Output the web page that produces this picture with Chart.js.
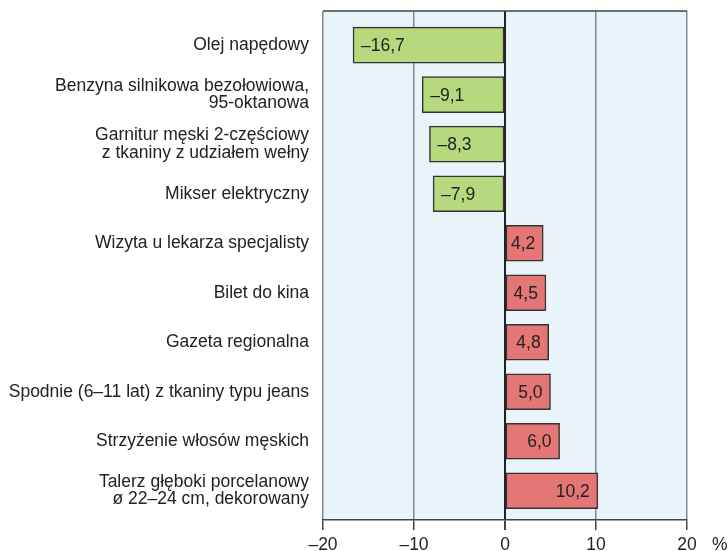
<!DOCTYPE html>
<html>
<head>
<meta charset="utf-8">
<script src="https://cdn.jsdelivr.net/npm/chart.js@4"></script>
<style>
  html, body { margin: 0; padding: 0; background: #fff; }
  #wrap { width: 728px; height: 551px; }
</style>
</head>
<body>
<div id="wrap"><canvas id="myChart" width="728" height="551"></canvas></div>
<script>
// dane z wykresu
const categories = [
  ["Olej napędowy"],
  ["Benzyna silnikowa bezołowiowa,", "95-oktanowa"],
  ["Garnitur męski 2-częściowy", "z tkaniny z udziałem wełny"],
  ["Mikser elektryczny"],
  ["Wizyta u lekarza specjalisty"],
  ["Bilet do kina"],
  ["Gazeta regionalna"],
  ["Spodnie (6–11 lat) z tkaniny typu jeans"],
  ["Strzyżenie włosów męskich"],
  ["Talerz głęboki porcelanowy", "ø 22–24 cm, dekorowany"]
];
const changes = [-16.7, -9.1, -8.3, -7.9, 4.2, 4.5, 4.8, 5.0, 6.0, 10.2];
const xTicks = [-20, -10, 0, 10, 20];

const FONT = "'Liberation Sans', Arial, sans-serif";
const fmt = (v) => (v < 0 ? "–" : "") + Math.abs(v).toFixed(1).replace(".", ",");

// tło obszaru wykresu + górna ramka
const bgPlugin = {
  id: "bgPlugin",
  beforeDraw(chart) {
    const { ctx, chartArea: a } = chart;
    ctx.save();
    ctx.fillStyle = "#e9f4fa";
    ctx.fillRect(a.left, a.top, a.right - a.left, a.bottom - a.top);
    ctx.restore();
  },
  afterDraw(chart) {
    const { ctx, chartArea: a } = chart;
    ctx.save();
    ctx.strokeStyle = "#444";
    ctx.lineWidth = 1.5;
    ctx.beginPath();
    ctx.moveTo(a.left, a.top);
    ctx.lineTo(a.right, a.top);
    ctx.stroke();
    // jednostka osi
    ctx.fillStyle = "#222";
    ctx.font = "17.5px " + FONT;
    ctx.textAlign = "left";
    ctx.textBaseline = "top";
    ctx.fillText("%", a.right + 25, a.bottom + 16);
    ctx.restore();
  }
};

// etykiety wartości wewnątrz słupków
const valueLabels = {
  id: "valueLabels",
  afterDatasetsDraw(chart) {
    const { ctx } = chart;
    const meta = chart.getDatasetMeta(0);
    ctx.save();
    ctx.fillStyle = "#222";
    ctx.font = "17.5px " + FONT;
    ctx.textBaseline = "middle";
    meta.data.forEach((bar, i) => {
      const v = changes[i];
      if (v < 0) {
        ctx.textAlign = "left";
        ctx.fillText(fmt(v), bar.x + 8, bar.y + 1);
      } else {
        ctx.textAlign = "right";
        ctx.fillText(fmt(v), bar.x - 8, bar.y + 1);
      }
    });
    ctx.restore();
  }
};

const ctx = document.getElementById("myChart").getContext("2d");
const myChart = new Chart(ctx, {
  type: "bar",
  data: {
    datasets: [
      {
        data: changes.map((v, i) => ({ x: v, y: i })),
        backgroundColor: changes.map((v) => (v < 0 ? "#b5d97c" : "#e57676")),
        borderColor: "#333",
        borderWidth: 1.5,
        borderSkipped: false,
        barThickness: 36
      }
    ]
  },
  options: {
    indexAxis: "y",
    responsive: false,
    animation: false,
    layout: { padding: { top: 11, right: 41, left: 0, bottom: 0 } },
    plugins: {
      legend: { display: false },
      tooltip: { enabled: false }
    },
    scales: {
      x: {
        type: "linear",
        min: -20,
        max: 20,
        afterBuildTicks: (axis) => {
          axis.ticks = xTicks.map((v) => ({ value: v }));
        },
        afterFit: (scale) => {
          scale.height = 31;
          scale.paddingLeft = 0;
          scale.paddingRight = 0;
        },
        ticks: {
          color: "#222",
          padding: 5,
          maxRotation: 0,
          font: { family: FONT, size: 17.5 },
          callback: (v) => fmt(v).replace(",0", "")
        },
        grid: {
          color: (c) => (c.tick && c.tick.value === 0 ? "#222" : "#888"),
          lineWidth: (c) => (c.tick && c.tick.value === 0 ? 2 : 1.5),
          tickLength: 10,
          tickColor: "#444",
          drawTicks: true
        },
        border: { display: true, color: "#444", width: 1.5 }
      },
      y: {
        type: "linear",
        reverse: true,
        offset: false,
        min: -0.69,
        max: 9.59,
        afterBuildTicks: (axis) => {
          axis.ticks = categories.map((_, i) => ({ value: i }));
        },
        afterFit: (scale) => {
          scale.width = 323;
          scale.paddingTop = 0;
          scale.paddingBottom = 0;
        },
        ticks: {
          color: "#222",
          padding: 14,
          font: { family: FONT, size: 17.5, lineHeight: 1.0 },
          callback: (v) => categories[v]
        },
        grid: { display: false, drawTicks: false },
        border: { display: false }
      }
    }
  },
  plugins: [bgPlugin, valueLabels]
});
</script>
</body>
</html>
